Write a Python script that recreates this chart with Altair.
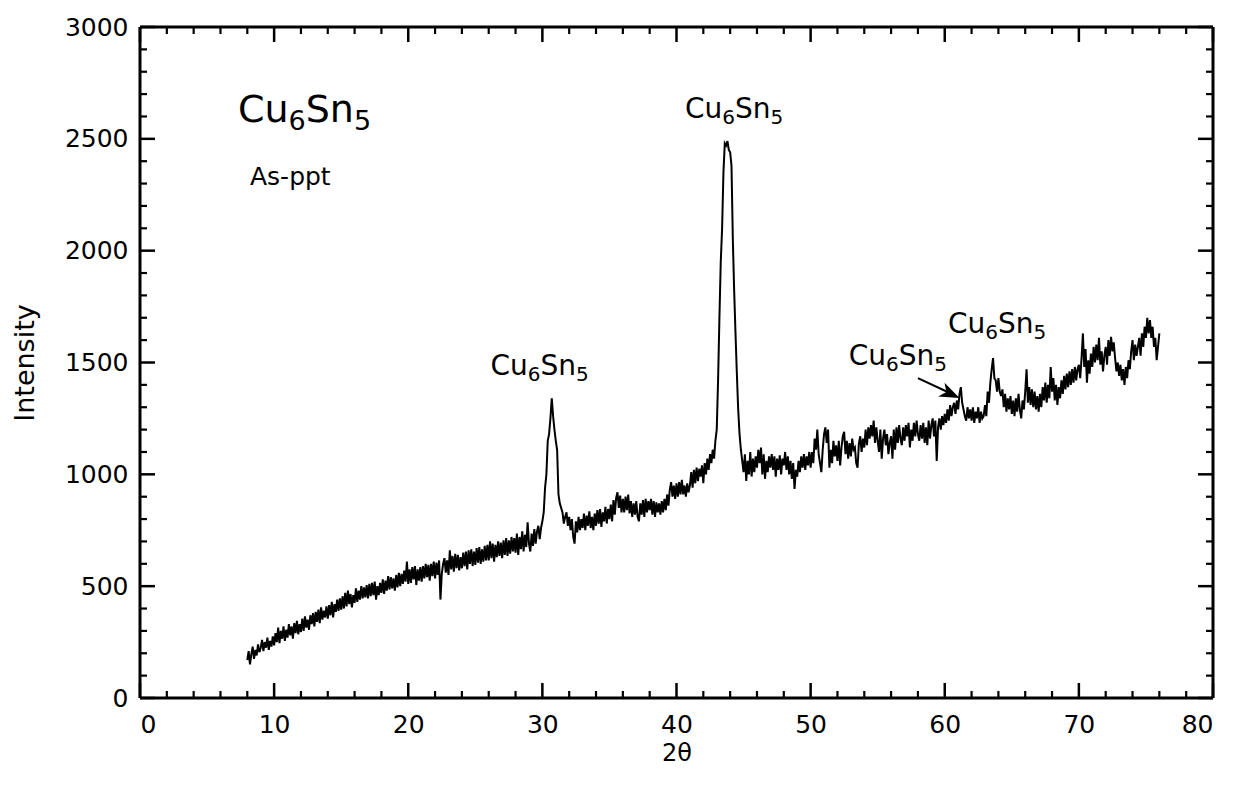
import altair as alt
import pandas as pd

# ---------------- data ----------------
angle_start = 8.0
angle_step = 0.1
intensity = [
    170, 210, 150, 195, 230, 175, 215, 190, 240, 205,            # 8
    225, 260, 210, 250, 225, 270, 215, 255, 230, 275,            # 9
    235, 290, 250, 315, 245, 300, 265, 320, 255, 305,            # 10
    270, 330, 280, 320, 265, 335, 290, 345, 285, 330,            # 11
    295, 355, 300, 365, 315, 350, 305, 370, 330, 380,            # 12
    320, 385, 340, 395, 335, 405, 350, 390, 360, 410,            # 13
    355, 415, 370, 430, 360, 420, 385, 440, 390, 445,            # 14
    395, 455, 400, 470, 410, 480, 420, 465, 405, 460,            # 15
    425, 490, 430, 480, 440, 500, 445, 495, 450, 505,            # 16
    445, 510, 455, 515, 460, 520, 440, 500, 460, 515,            # 17
    470, 530, 465, 525, 480, 545, 485, 540, 490, 535,            # 18
    480, 550, 495, 560, 500, 555, 510, 570, 520, 610,            # 19
    510, 575, 515, 585, 530, 590, 505, 575, 525, 585,            # 20
    520, 590, 535, 600, 540, 595, 525, 600, 545, 610,            # 21
    535, 605, 550, 615, 440, 555, 600, 625, 560, 615,            # 22
    550, 660, 575, 635, 565, 645, 580, 640, 570, 630,            # 23
    580, 650, 590, 655, 575, 660, 600, 665, 590, 655,            # 24
    595, 670, 605, 675, 600, 665, 610, 680, 615, 685,            # 25
    615, 700, 625, 690, 610, 685, 630, 700, 635, 695,            # 26
    625, 705, 640, 715, 635, 705, 645, 720, 655, 715,            # 27
    650, 735, 640, 720, 665, 745, 655, 730, 675, 785,            # 28
    690, 655, 735, 680, 755, 690, 745, 770, 710, 760,            # 29
    790, 830, 940, 1000, 1150, 1180, 1250, 1340, 1260, 1200,     # 30
    1150, 1110, 910, 870, 850, 830, 780, 810, 830, 770,          # 31
    810, 750, 800, 720, 690, 790, 740, 810, 750, 800,            # 32
    760, 825, 750, 815, 770, 835, 760, 810, 750, 825,            # 33
    770, 840, 780, 845, 765, 830, 790, 855, 780, 845,            # 34
    800, 865, 790, 885, 820, 895, 920, 850, 905, 830,            # 35
    890, 830, 900, 840, 910, 825, 880, 810, 870, 820,            # 36
    880, 810, 790, 870, 820, 885, 810, 890, 830, 880,            # 37
    840, 890, 820, 880, 810, 875, 830, 870, 820, 880,            # 38
    830, 890, 840, 910, 860, 930, 965, 900, 950, 890,            # 39
    960, 900, 965, 910, 975, 910, 950, 900, 960, 920,            # 40
    950, 1010, 940, 1020, 960, 1030, 970, 1025, 990, 1040,       # 41
    960, 1050, 1000, 1070, 1020, 1090, 1050, 1110, 1070, 1150,   # 42
    1200, 1420, 1700, 1950, 2100, 2350, 2480, 2470, 2490, 2450,  # 43
    2440, 2380, 2050, 1820, 1630, 1450, 1290, 1180, 1110, 1060,  # 44
    1010, 1090, 970, 1060, 1000, 1100, 990, 1070, 1010, 1080,    # 45
    1030, 1110, 1050, 1120, 1000, 1090, 980, 1060, 1010, 1080,   # 46
    1030, 1090, 1020, 1080, 990, 1070, 1020, 1085, 1000, 1070,   # 47
    1040, 1100, 1020, 1080, 1000, 1060, 980, 1050, 935, 1020,    # 48
    990, 1060, 1010, 1080, 1030, 1090, 1020, 1080, 1040, 1100,   # 49
    1030, 1100, 1050, 1160, 1110, 1200, 1090, 1050, 1010, 1110,  # 50
    1180, 1210, 1140, 1200, 1030, 1110, 1050, 1150, 1080, 1130,  # 51
    1060, 1150, 1040, 1120, 1170, 1190, 1090, 1150, 1070, 1140,  # 52
    1080, 1160, 1110, 1120, 1050, 1030, 1140, 1170, 1100, 1160,  # 53
    1120, 1200, 1130, 1210, 1160, 1220, 1170, 1240, 1140, 1210,  # 54
    1150, 1100, 1200, 1070, 1160, 1200, 1130, 1180, 1090, 1140,  # 55
    1170, 1070, 1200, 1110, 1210, 1140, 1220, 1160, 1130, 1210,  # 56
    1150, 1220, 1170, 1230, 1120, 1200, 1150, 1230, 1170, 1240,  # 57
    1180, 1150, 1220, 1160, 1230, 1140, 1210, 1130, 1240, 1160,  # 58
    1220, 1250, 1170, 1240, 1060, 1210, 1250, 1200, 1260, 1220,  # 59
    1270, 1230, 1290, 1240, 1310, 1260, 1300, 1320, 1270, 1330,  # 60
    1290, 1360, 1390, 1320, 1290, 1260, 1240, 1300, 1250, 1290,  # 61
    1240, 1300, 1230, 1280, 1250, 1300, 1230, 1280, 1250, 1260,  # 62
    1310, 1260, 1370, 1320, 1410, 1470, 1520, 1430, 1420, 1370,  # 63
    1430, 1370, 1350, 1380, 1300, 1360, 1280, 1340, 1290, 1350,  # 64
    1270, 1330, 1260, 1340, 1280, 1360, 1290, 1250, 1330, 1290,  # 65
    1370, 1470, 1320, 1390, 1310, 1380, 1300, 1370, 1290, 1350,  # 66
    1280, 1360, 1300, 1390, 1330, 1410, 1320, 1400, 1340, 1480,  # 67
    1370, 1430, 1330, 1400, 1310, 1390, 1340, 1420, 1360, 1440,  # 68
    1380, 1450, 1390, 1460, 1400, 1470, 1410, 1480, 1420, 1470,  # 69
    1490, 1430, 1520, 1630, 1480, 1560, 1410, 1510, 1450, 1540,  # 70
    1480, 1570, 1500, 1580, 1510, 1610, 1490, 1550, 1460, 1530,  # 71
    1570, 1490, 1600, 1530, 1615, 1550, 1590, 1520, 1460, 1500,  # 72
    1440, 1490, 1420, 1470, 1400, 1480, 1430, 1510, 1470, 1550,  # 73
    1600, 1510, 1580, 1530, 1570, 1610, 1530, 1630, 1570, 1660,  # 74
    1610, 1700, 1630, 1690, 1610, 1660, 1570, 1610, 1510, 1570,  # 75
    1630,                                                        # 76
]
two_theta = [round(angle_start + angle_step * i, 1) for i in range(len(intensity))]

x_major = [0, 10, 20, 30, 40, 50, 60, 70, 80]
x_minor = [2, 4, 6, 8, 12, 14, 16, 18, 22, 24, 26, 28, 32, 34, 36, 38,
           42, 44, 46, 48, 52, 54, 56, 58, 62, 64, 66, 68, 72, 74, 76, 78]
y_major = [0, 500, 1000, 1500, 2000, 2500, 3000]
y_minor = [100, 200, 300, 400, 600, 700, 800, 900, 1100, 1200, 1300, 1400,
           1600, 1700, 1800, 1900, 2100, 2200, 2300, 2400, 2600, 2700, 2800, 2900]

# formula label pieces: (text, is_subscript)
formula_parts = [("Cu", False), ("6", True), ("Sn", False), ("5", True)]
peak_label_x = [29.8, 44.3, 56.5, 63.9]
peak_label_y = [1444, 2593, 1489, 1632]
title_x = [7.3]
title_y = [2575]
cond_text = ["As-ppt"]
cond_x = [8.2]
cond_y = [2293]
arrow_from = (58.0, 1430)
arrow_to = (61.1, 1341)

# ---------------- chart ----------------
W, H = 1073, 671
FONT = "DejaVu Sans"
ADV = {"C": 0.698, "u": 0.634, "S": 0.635, "n": 0.634, "6": 0.636, "5": 0.636}

xs = alt.Scale(domain=[0, 80], nice=False, zero=False)
ys = alt.Scale(domain=[0, 3000], nice=False, zero=False)

df = pd.DataFrame({"tt": two_theta, "I": intensity})

line = alt.Chart(df).mark_line(color="black", strokeWidth=2.0, strokeJoin="miter").encode(
    x=alt.X("tt:Q", scale=xs,
            axis=alt.Axis(values=x_major, ticks=False, domain=False, grid=False,
                          format="d", labelFontSize=25, labelPadding=14, labelFont=FONT,
                          labelColor="black", title="2θ", titleFont=FONT,
                          titleFontSize=24, titleFontWeight="normal",
                          titleColor="black", titlePadding=4)),
    y=alt.Y("I:Q", scale=ys,
            axis=alt.Axis(values=y_major, ticks=False, domain=False, grid=False,
                          format="d", labelFontSize=25, labelPadding=12, labelFont=FONT,
                          labelColor="black", title="Intensity", titleFont=FONT,
                          titleFontSize=27, titleFontWeight="normal",
                          titleColor="black", titlePadding=25)),
)

def vticks(vals, length, at_top, sw):
    d = pd.DataFrame({"v": vals})
    if at_top:
        yy, yy2 = alt.value(0), alt.value(length)
    else:
        yy, yy2 = alt.value(H), alt.value(H - length)
    return alt.Chart(d).mark_rule(color="black", strokeWidth=sw).encode(
        x=alt.X("v:Q", scale=xs), y=yy, y2=yy2)

def hticks(vals, length, at_right, sw):
    d = pd.DataFrame({"v": vals})
    if at_right:
        xx, xx2 = alt.value(W), alt.value(W - length)
    else:
        xx, xx2 = alt.value(0), alt.value(length)
    return alt.Chart(d).mark_rule(color="black", strokeWidth=sw).encode(
        y=alt.Y("v:Q", scale=ys), x=xx, x2=xx2)

ticks = [
    vticks(x_major, 15, False, 2.5), vticks(x_major, 15, True, 2.5),
    vticks(x_minor, 7, False, 2.2), vticks(x_minor, 7, True, 2.2),
    hticks(y_major, 15, False, 2.5), hticks(y_major, 15, True, 2.5),
    hticks(y_minor, 7, False, 2.2), hticks(y_minor, 7, True, 2.2),
]

frame_src = pd.DataFrame({"k": [0]})
frame = [
    alt.Chart(frame_src).mark_rule(color="black", strokeWidth=3).encode(
        x=alt.value(0), x2=alt.value(W), y=alt.value(0)),
    alt.Chart(frame_src).mark_rule(color="black", strokeWidth=3).encode(
        x=alt.value(0), x2=alt.value(W), y=alt.value(H)),
    alt.Chart(frame_src).mark_rule(color="black", strokeWidth=3).encode(
        y=alt.value(0), y2=alt.value(H), x=alt.value(0)),
    alt.Chart(frame_src).mark_rule(color="black", strokeWidth=3).encode(
        y=alt.value(0), y2=alt.value(H), x=alt.value(W)),
]

def formula_layers(xv, yv, size, sub_size, shift, centered):
    d = pd.DataFrame({"x": xv, "y": yv})
    widths = [sum(ADV[c] for c in t) * (sub_size if sub else size)
              for t, sub in formula_parts]
    x0 = -sum(widths) / 2 if centered else 0.0
    out = []
    for (t, sub), w in zip(formula_parts, widths):
        out.append(alt.Chart(d).mark_text(
            text=t, font=FONT, fontSize=sub_size if sub else size,
            color="black", align="left", baseline="alphabetic",
            dx=x0, dy=shift if sub else 0
        ).encode(x=alt.X("x:Q", scale=xs), y=alt.Y("y:Q", scale=ys)))
        x0 += w
    return out

peak_labels = formula_layers(peak_label_x, peak_label_y, 28, 20, 6, True)
big_label = formula_layers(title_x, title_y, 38, 27, 8, False)

cond_df = pd.DataFrame({"x": cond_x, "y": cond_y, "t": cond_text})
cond_label = alt.Chart(cond_df).mark_text(
    font=FONT, fontSize=25, color="black", align="left", baseline="alphabetic"
).encode(x=alt.X("x:Q", scale=xs), y=alt.Y("y:Q", scale=ys), text="t:N")

arrow_df = pd.DataFrame({"x": [arrow_from[0]], "y": [arrow_from[1]],
                         "x2": [arrow_to[0] - 0.8], "y2": [arrow_to[1] + 25]})
arrow_line = alt.Chart(arrow_df).mark_rule(color="black", strokeWidth=2).encode(
    x=alt.X("x:Q", scale=xs), y=alt.Y("y:Q", scale=ys), x2="x2:Q", y2="y2:Q")

head_df = pd.DataFrame({"x": [arrow_to[0]], "y": [arrow_to[1]]})
arrow_head = alt.Chart(head_df).mark_point(
    shape="M0,0 L-2,-0.75 L-1.45,0 L-2,0.75 Z", filled=True, color="black",
    opacity=1, size=400, angle=25
).encode(x=alt.X("x:Q", scale=xs), y=alt.Y("y:Q", scale=ys))

chart = alt.layer(
    line, *ticks, *frame, *peak_labels, *big_label, cond_label, arrow_line, arrow_head
).properties(
    width=W, height=H,
    autosize=alt.AutoSizeParams(type="none"),
    padding={"left": 132, "top": 19, "right": 12, "bottom": 70},
).configure_view(
    stroke=None
).configure(background="white")

chart.save("out.html", embed_options={"renderer": "svg", "actions": False})
